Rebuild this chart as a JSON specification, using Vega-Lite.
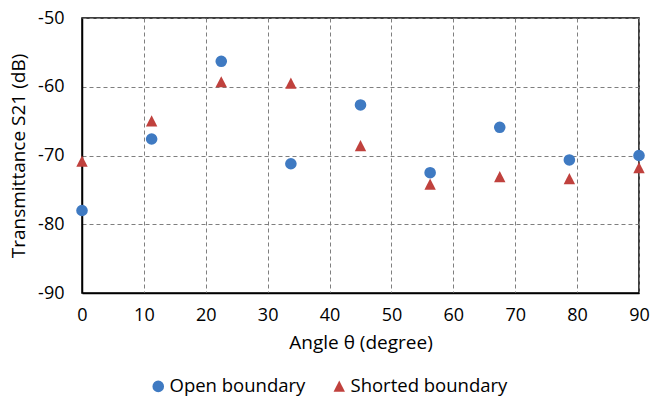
{
  "$schema": "https://vega.github.io/schema/vega-lite/v6.json",
  "autosize": "none",
  "width": 557,
  "height": 275,
  "padding": {"left": 82, "top": 18, "right": 12, "bottom": 106},
  "config": {
    "font": "Open Sans",
    "view": {"stroke": "#000000", "strokeWidth": 1.5},
    "axis": {
      "labelFont": "Open Sans",
      "titleFont": "Open Sans",
      "labelFontSize": 18,
      "titleFontSize": 19,
      "labelColor": "#000000",
      "titleColor": "#000000",
      "titleFontWeight": "normal",
      "domainColor": "#000000",
      "domainWidth": 1.5,
      "ticks": false,
      "labelFlush": false,
      "labelExpr": "'' + datum.value",
      "gridColor": "#7f7f7f",
      "gridDash": [4, 3],
      "gridWidth": 1
    }
  },
  "data": {
    "values": [
      {"angle": 0, "s21": -78.0, "series": "Open boundary"},
      {"angle": 11.25, "s21": -67.6, "series": "Open boundary"},
      {"angle": 22.5, "s21": -56.3, "series": "Open boundary"},
      {"angle": 33.75, "s21": -71.2, "series": "Open boundary"},
      {"angle": 45, "s21": -62.65, "series": "Open boundary"},
      {"angle": 56.25, "s21": -72.5, "series": "Open boundary"},
      {"angle": 67.5, "s21": -65.9, "series": "Open boundary"},
      {"angle": 78.75, "s21": -70.65, "series": "Open boundary"},
      {"angle": 90, "s21": -70.0, "series": "Open boundary"},
      {"angle": 0, "s21": -70.85, "series": "Shorted boundary"},
      {"angle": 11.25, "s21": -65.0, "series": "Shorted boundary"},
      {"angle": 22.5, "s21": -59.3, "series": "Shorted boundary"},
      {"angle": 33.75, "s21": -59.5, "series": "Shorted boundary"},
      {"angle": 45, "s21": -68.6, "series": "Shorted boundary"},
      {"angle": 56.25, "s21": -74.2, "series": "Shorted boundary"},
      {"angle": 67.5, "s21": -73.1, "series": "Shorted boundary"},
      {"angle": 78.75, "s21": -73.4, "series": "Shorted boundary"},
      {"angle": 90, "s21": -71.8, "series": "Shorted boundary"}
    ]
  },
  "mark": {"type": "point", "filled": true, "opacity": 1, "size": 135},
  "encoding": {
    "x": {
      "field": "angle",
      "type": "quantitative",
      "scale": {"domain": [0, 90], "nice": false},
      "axis": {"values": [0, 10, 20, 30, 40, 50, 60, 70, 80, 90], "title": "Angle θ  (degree)", "labelPadding": 13, "titlePadding": 9}
    },
    "y": {
      "field": "s21",
      "type": "quantitative",
      "scale": {"domain": [-90, -50], "nice": false},
      "axis": {"values": [-90, -80, -70, -60, -50], "title": "Transmittance S21 (dB)", "labelPadding": 18, "titlePadding": 9}
    },
    "color": {
      "field": "series",
      "type": "nominal",
      "scale": {"domain": ["Open boundary", "Shorted boundary"], "range": ["#3F7AC2", "#C0413D"]},
      "legend": {
        "title": null,
        "orient": "none",
        "direction": "horizontal",
        "legendX": 67,
        "legendY": 359,
        "labelFontSize": 18.5,
        "labelColor": "#000000",
        "symbolSize": 135,
        "columnPadding": 24,
        "labelOffset": 2
      }
    },
    "shape": {
      "field": "series",
      "type": "nominal",
      "scale": {"domain": ["Open boundary", "Shorted boundary"], "range": ["circle", "M0,-1L0.98,0.92L-0.98,0.92Z"]},
      "legend": null
    }
  }
}
